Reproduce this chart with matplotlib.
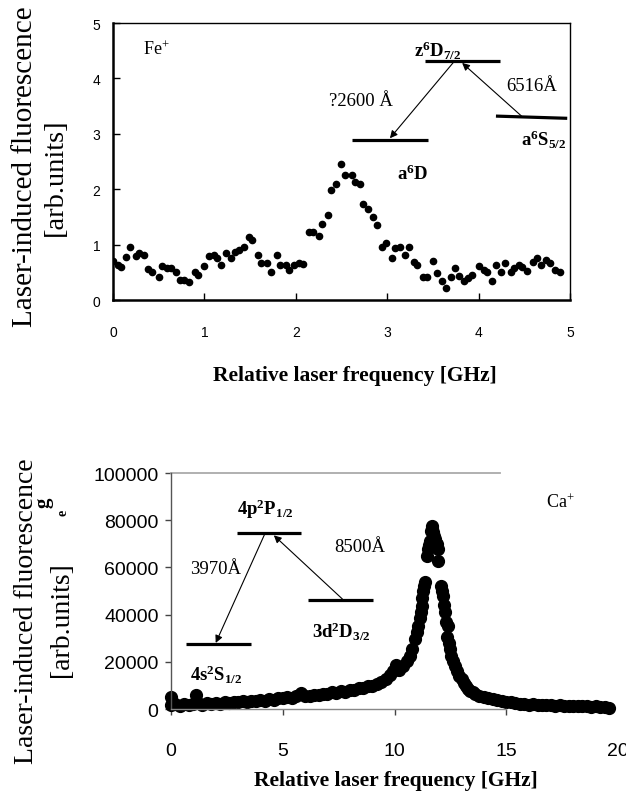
import matplotlib
matplotlib.use("Agg")
import matplotlib.pyplot as plt
import numpy as np

plt.rcParams['mathtext.fontset'] = 'custom'
plt.rcParams['mathtext.rm'] = 'Liberation Serif'
plt.rcParams['mathtext.bf'] = 'Liberation Serif:bold'
plt.rcParams['mathtext.it'] = 'Liberation Serif:italic'

SERIF = 'Liberation Serif'
SANS = 'Liberation Sans'

# ---------------- Fe+ data (top panel) ----------------
fe_freq = [0.00, 0.05, 0.09, 0.14, 0.19, 0.25, 0.29, 0.34, 0.38, 0.43, 0.50, 0.54,
           0.59, 0.64, 0.69, 0.73, 0.78, 0.83, 0.90, 0.93, 1.00, 1.05, 1.10, 1.14,
           1.18, 1.24, 1.29, 1.34, 1.38, 1.43, 1.49, 1.52, 1.59, 1.62, 1.69, 1.73,
           1.79, 1.83, 1.89, 1.93, 1.98, 2.03, 2.08, 2.14, 2.19, 2.25, 2.29, 2.35,
           2.38, 2.44, 2.50, 2.54, 2.61, 2.65, 2.70, 2.74, 2.79, 2.84, 2.89, 2.94,
           2.99, 3.05, 3.09, 3.14, 3.19, 3.24, 3.29, 3.33, 3.39, 3.44, 3.50, 3.54,
           3.60, 3.64, 3.70, 3.74, 3.79, 3.84, 3.88, 3.93, 4.00, 4.06, 4.09, 4.15,
           4.19, 4.25, 4.29, 4.36, 4.39, 4.44, 4.48, 4.53, 4.59, 4.64, 4.68, 4.74,
           4.78, 4.84, 4.89]
fe_signal = [0.70, 0.63, 0.60, 0.78, 0.96, 0.79, 0.84, 0.81, 0.56, 0.51, 0.42, 0.61,
             0.57, 0.58, 0.51, 0.36, 0.37, 0.33, 0.51, 0.46, 0.61, 0.79, 0.81, 0.76,
             0.63, 0.84, 0.75, 0.87, 0.90, 0.96, 1.14, 1.08, 0.81, 0.66, 0.66, 0.51,
             0.81, 0.63, 0.63, 0.54, 0.63, 0.66, 0.65, 1.23, 1.23, 1.16, 1.38, 1.54,
             1.98, 2.10, 2.46, 2.26, 2.26, 2.13, 2.10, 1.74, 1.65, 1.50, 1.35, 0.96,
             1.03, 0.76, 0.93, 0.96, 0.81, 0.96, 0.68, 0.63, 0.42, 0.42, 0.70, 0.48,
             0.34, 0.21, 0.42, 0.58, 0.44, 0.34, 0.40, 0.45, 0.62, 0.54, 0.51, 0.34,
             0.63, 0.51, 0.66, 0.51, 0.57, 0.63, 0.60, 0.52, 0.69, 0.75, 0.63, 0.72,
             0.66, 0.54, 0.51]
fe_xticks = [0, 1, 2, 3, 4, 5]
fe_yticks = [0, 1, 2, 3, 4, 5]

# ---------------- Ca+ data (bottom panel) ----------------
ca_freq = [0.0, 0.0, 0.2, 0.4, 0.6, 0.8, 1.0, 1.1, 1.2, 1.4, 1.6, 1.8, 2.0, 2.2, 2.4,
           2.6, 2.8, 3.0, 3.2, 3.4, 3.6, 3.8, 4.0, 4.2, 4.4, 4.6, 4.8, 5.0, 5.2,
           5.4, 5.6, 5.8, 6.0, 6.2, 6.4, 6.6, 6.8, 7.0, 7.2, 7.4, 7.6, 7.8, 8.0,
           8.2, 8.4, 8.6, 8.8, 9.0, 9.2, 9.4, 9.6, 9.8, 9.95, 10.05, 10.2, 10.4,
           10.55, 10.7, 10.8, 10.92, 11.0, 11.07, 11.13, 11.17, 11.21, 11.25, 11.29,
           11.33, 11.36, 11.44, 11.51, 11.55, 11.59, 11.63, 11.66, 11.70, 11.74,
           11.78, 11.81, 11.85, 11.89, 11.93, 11.96, 12.10, 12.14, 12.18, 12.22,
           12.25, 12.30, 12.33, 12.40, 12.44, 12.48, 12.55, 12.62, 12.70, 12.8,
           12.9, 13.0, 13.1, 13.2, 13.3, 13.38, 13.5, 13.6, 13.8, 14.0, 14.2, 14.4,
           14.6, 14.8, 15.0, 15.2, 15.4, 15.6, 15.8, 16.0, 16.2, 16.4, 16.6, 16.8,
           17.0, 17.2, 17.4, 17.6, 17.8, 18.0, 18.2, 18.4, 18.6, 18.8, 19.0, 19.2,
           19.4, 19.6]
ca_signal = [1500, 5200, 2200, 1300, 2000, 1600, 2300, 5800, 2400, 1800, 2500, 2100,
             2700, 2300, 2900, 2600, 3100, 2800, 3300, 3000, 3600, 3300, 3900, 3600,
             4300, 4000, 4700, 4500, 5000, 4800, 5400, 6800, 5700, 5500, 6100, 5900,
             6500, 6400, 7000, 6800, 7500, 7300, 8100, 8000, 8800, 8700, 9600, 9800,
             10600, 11500, 12700, 14500, 16200, 18500, 16500, 18400, 20500, 22600,
             25500, 29700, 32500, 35300, 38500, 41000, 43800, 47000, 50100, 52000,
             53700, 65000, 67800, 69500, 71300, 75500, 77700, 76500, 74900, 73500,
             72000, 70500, 69900, 68000, 62800, 52200, 50000, 48000, 44000, 41000,
             37000, 30400, 35300, 28000, 25400, 22500, 20300, 18400, 16000, 14000,
             12700, 11000, 9800, 8500, 7800, 7000, 6300, 5600, 5000, 4600, 4100,
             3800, 3300, 2800, 2900, 2500, 2300, 2100, 1900, 2000, 1700, 1800, 1500,
             1700, 1400, 1500, 1300, 1400, 1200, 1300, 1100, 1200, 1000, 1100, 900,
             1000, 500]
ca_xticks = [0, 5, 10, 15, 20]
ca_yticks = [0, 20000, 40000, 60000, 80000, 100000]

fig = plt.figure(figsize=(6.26, 8.12), dpi=100)

# ================= top panel =================
ax1 = fig.add_axes([0.1805, 0.6293, 0.730, 0.3411])
ax1.plot(fe_freq, fe_signal, 'o', color='black', ms=4.5, mec='black')
ax1.set_xlim(0, 5)
ax1.set_ylim(0, 5)
ax1.set_xticks(fe_xticks)
ax1.set_yticks(fe_yticks)
ax1.tick_params(axis='both', direction='in', length=5, width=1.0, labelsize=10)
ax1.tick_params(axis='x', pad=18)
ax1.tick_params(axis='y', pad=9)
for lab in ax1.get_xticklabels() + ax1.get_yticklabels():
    lab.set_fontfamily(SANS)
for s in ['left', 'bottom']:
    ax1.spines[s].set_linewidth(1.8)
for s in ['top', 'right']:
    ax1.spines[s].set_linewidth(1.0)

ax1.set_xlabel('Relative laser frequency [GHz]', fontfamily=SERIF,
               fontweight='bold', fontsize=15.5)
ax1.xaxis.set_label_coords(0.53, -0.235)

# energy level diagram (top)
lvl_kw = dict(color='black', lw=2.3, solid_capstyle='butt')
ax1.plot([3.41, 4.23], [4.32, 4.32], **lvl_kw)
ax1.plot([2.61, 3.45], [2.89, 2.89], **lvl_kw)
ax1.plot([4.19, 4.97], [3.32, 3.28], **lvl_kw)
arr_kw = dict(arrowstyle='-|>', color='black', lw=0.8, mutation_scale=11,
              shrinkA=0, shrinkB=0)
ax1.annotate('', xy=(3.03, 2.92), xytext=(3.73, 4.30), arrowprops=arr_kw)
ax1.annotate('', xy=(3.82, 4.28), xytext=(4.47, 3.32), arrowprops=arr_kw)

ax1.text(3.55, 4.52, r'$\mathbf{z^{6}D_{7/2}}$', fontsize=13.5, ha='center', va='center')
ax1.text(2.71, 3.60, '?2600 Å', fontfamily=SERIF, fontsize=13.5, ha='center', va='center')
ax1.text(4.58, 3.88, '6516Å', fontfamily=SERIF, fontsize=13.5, ha='center', va='center')
ax1.text(4.71, 2.90, r'$\mathbf{a^{6}S_{5/2}}$', fontsize=13.5, ha='center', va='center')
ax1.text(3.28, 2.28, r'$\mathbf{a^{6}D}$', fontsize=13.5, ha='center', va='center')
ax1.text(0.33, 4.53, r'$\mathrm{Fe^{+}}$', fontsize=13, ha='left', va='center')

fig.text(25/626, 1 - 167/812, 'Laser-induced fluorescence', rotation=90,
         fontfamily=SERIF, fontsize=21, ha='center', va='center')
fig.text(55/626, 1 - 177/812, '[arb.units]', rotation=90,
         fontfamily=SERIF, fontsize=20.5, ha='center', va='center')

# ================= bottom panel =================
ax2 = fig.add_axes([0.2732, 0.1256, 0.714, 0.2906])
ax2.plot(ca_freq, ca_signal, 'o', color='black', ms=8.5, mec='black', clip_on=False)
ax2.set_xlim(0, 20)
ax2.set_ylim(0, 100000)
ax2.set_xticks(ca_xticks)
ax2.set_yticks(ca_yticks)
ax2.tick_params(axis='both', direction='out', length=4, width=1.0,
                labelsize=14, color='#444444')
ax2.tick_params(axis='x', pad=20)
ax2.tick_params(axis='y', pad=5)
for lab in ax2.get_xticklabels() + ax2.get_yticklabels():
    lab.set_fontfamily(SANS)
ax2.xaxis.get_major_ticks()[-1].tick1line.set_visible(False)
ax2.spines['top'].set_visible(False)
ax2.spines['right'].set_visible(False)
ax2.spines['left'].set_color('#555555')
ax2.spines['left'].set_linewidth(1.0)
ax2.spines['bottom'].set_color('#888888')
ax2.spines['bottom'].set_linewidth(1.0)
ax2.spines['bottom'].set_bounds(0, 15)
ax2.axhline(100000, xmin=0, xmax=14.7 / 20, color='#aaaaaa', lw=1.3, clip_on=False)

ax2.set_xlabel('Relative laser frequency [GHz]', fontfamily=SERIF,
               fontweight='bold', fontsize=15.5)
ax2.xaxis.set_label_coords(0.503, -0.26)

ax2.plot([2.93, 5.80], [74600, 74600], **lvl_kw)
ax2.plot([0.66, 3.56], [27600, 27600], **lvl_kw)
ax2.plot([6.15, 9.03], [46000, 46000], **lvl_kw)
ax2.annotate('', xy=(2.0, 28000), xytext=(4.20, 74300), arrowprops=arr_kw)
ax2.annotate('', xy=(4.6, 73600), xytext=(7.67, 46600), arrowprops=arr_kw)

ax2.text(4.24, 84900, r'$\mathbf{4p^{2}P_{1/2}}$', fontsize=13.5, ha='center', va='center')
ax2.text(2.0, 59600, '3970Å', fontfamily=SERIF, fontsize=13.5, ha='center', va='center')
ax2.text(8.43, 68700, '8500Å', fontfamily=SERIF, fontsize=13.5, ha='center', va='center')
ax2.text(7.64, 33000, r'$\mathbf{3d^{2}D_{3/2}}$', fontsize=13.5, ha='center', va='center')
ax2.text(2.02, 15000, r'$\mathbf{4s^{2}S_{1/2}}$', fontsize=13.5, ha='center', va='center')
ax2.text(17.4, 87700, r'$\mathrm{Ca^{+}}$', fontsize=13, ha='center', va='center')

fig.text(27/626, 1 - 611/812, 'Laser-induced fluorescence', rotation=90,
         fontfamily=SERIF, fontsize=20, ha='center', va='center')
fig.text(62/626, 1 - 620/812, '[arb.units]', rotation=90,
         fontfamily=SERIF, fontsize=20, ha='center', va='center')
# stray glyph artefacts next to the label
fig.text(43/626, 1 - 503/812, 'g', rotation=90, fontfamily=SERIF,
         fontweight='bold', fontsize=15, ha='center', va='center')
fig.text(63/626, 1 - 513/812, 'e', rotation=90, fontfamily=SERIF,
         fontweight='bold', fontsize=10, ha='center', va='center')

fig.savefig('out.png', dpi=100)
